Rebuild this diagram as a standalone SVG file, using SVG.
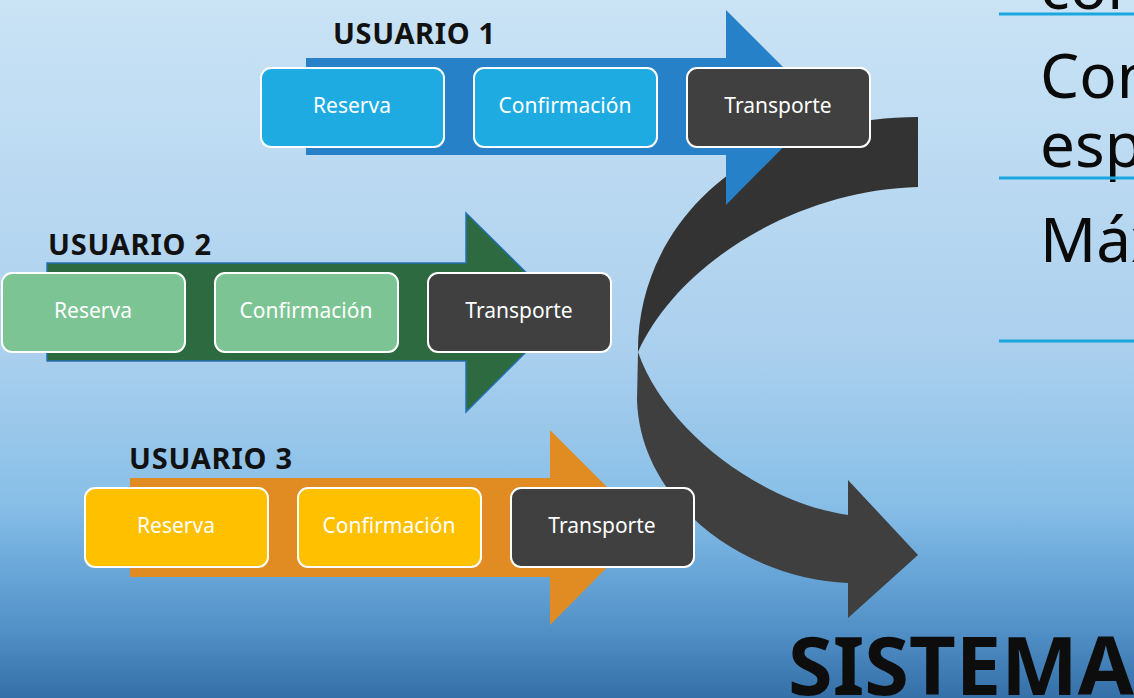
<svg xmlns="http://www.w3.org/2000/svg" width="1134" height="698" viewBox="0 0 1134 698">
  <defs>
    <linearGradient id="bg" x1="0" y1="0" x2="0" y2="1">
      <stop offset="0" stop-color="#CAE3F5"/>
      <stop offset="0.5" stop-color="#ABD0EE"/>
      <stop offset="0.72" stop-color="#88BFE7"/>
      <stop offset="0.8" stop-color="#6EABDC"/>
      <stop offset="0.9" stop-color="#5291C7"/>
      <stop offset="1" stop-color="#3570A8"/>
    </linearGradient>
    <style>
      .box { stroke: #FFFFFF; stroke-width: 2; }
      .blue { fill: #1DABE2; }
      .green { fill: #7DC494; }
      .gold { fill: #FFC000; }
      .dark { fill: #404040; }
      .btxt { font-family: "Noto Sans", "Open Sans", sans-serif; font-size: 21px; fill: #FFFFFF; text-anchor: middle; }
      .lbl { font-family: "Noto Sans", "Open Sans", sans-serif; font-size: 29px; font-weight: bold; fill: #111111; }
      .side { font-family: "Noto Sans", "Open Sans", sans-serif; font-size: 62px; fill: #0A0A0A; }
      .rule { stroke: #1BA6DF; stroke-width: 3; }
    </style>
  </defs>

  <!-- backdrop -->
  <rect x="0" y="0" width="1134" height="698" fill="url(#bg)"/>

  <!-- list on the right edge -->
  <g id="side-list">
    <text class="side" x="1040" y="9">con</text>
    <line class="rule" x1="999" y1="14" x2="1134" y2="14"/>
    <text class="side" x="1040" y="98">Con</text>
    <text class="side" x="1040" y="167">espe</text>
    <line class="rule" x1="999" y1="178" x2="1134" y2="178"/>
    <text class="side" x="1040" y="262">Máx</text>
    <line class="rule" x1="999" y1="341" x2="1134" y2="341"/>
  </g>

  <!-- curved ribbon arrow leading to the system -->
  <g id="connectors">
    <path d="M918,117 C740,118 637,230 638,352 C680,260 800,190 918,187 Z" fill="#333333"/>
    <path d="M638,352 L637,400 C640,500 740,578 848,583 L848,618 L918,555 L848,480 L848,515 C760,502 665,430 638,352 Z" fill="#3F3F3F"/>
  </g>

  <!-- user 1 -->
  <g id="usuario1">
    <polygon points="306,58 726,58 726,10 823,107 726,205 726,155 306,155" fill="#2681C8"/>
    <text class="lbl" x="333" y="44" textLength="162" lengthAdjust="spacing">USUARIO 1</text>
    <g id="u1-reserva"><rect class="box blue" x="261" y="68" width="183" height="79" rx="10"/><text class="btxt" x="352" y="113">Reserva</text></g>
    <g id="u1-confirmacion"><rect class="box blue" x="474" y="68" width="183" height="79" rx="10"/><text class="btxt" x="565" y="113">Confirmación</text></g>
    <g id="u1-transporte"><rect class="box dark" x="687" y="68" width="183" height="79" rx="10"/><text class="btxt" x="778" y="113">Transporte</text></g>
  </g>

  <!-- user 2 -->
  <g id="usuario2">
    <polygon points="47,263 466,263 466,213 566,312 466,412 466,361 47,361" fill="#2D6A3F" stroke="#2372B0" stroke-width="1.5"/>
    <text class="lbl" x="48" y="255" textLength="163" lengthAdjust="spacing">USUARIO 2</text>
    <g id="u2-reserva"><rect class="box green" x="2" y="273" width="183" height="79" rx="10"/><text class="btxt" x="93" y="318">Reserva</text></g>
    <g id="u2-confirmacion"><rect class="box green" x="215" y="273" width="183" height="79" rx="10"/><text class="btxt" x="306" y="318">Confirmación</text></g>
    <g id="u2-transporte"><rect class="box dark" x="428" y="273" width="183" height="79" rx="10"/><text class="btxt" x="519" y="318">Transporte</text></g>
  </g>

  <!-- user 3 -->
  <g id="usuario3">
    <polygon points="130,478 550,478 550,430 647,527 550,625 550,577 130,577" fill="#E08C22"/>
    <text class="lbl" x="129" y="469" textLength="163" lengthAdjust="spacing">USUARIO 3</text>
    <g id="u3-reserva"><rect class="box gold" x="85" y="488" width="183" height="79" rx="10"/><text class="btxt" x="176" y="533">Reserva</text></g>
    <g id="u3-confirmacion"><rect class="box gold" x="298" y="488" width="183" height="79" rx="10"/><text class="btxt" x="389" y="533">Confirmación</text></g>
    <g id="u3-transporte"><rect class="box dark" x="511" y="488" width="183" height="79" rx="10"/><text class="btxt" x="602" y="533">Transporte</text></g>
  </g>

  <!-- system title -->
  <g id="sistema">
    <text x="788" y="695" font-family="'Noto Sans', 'Open Sans', sans-serif" font-size="81" font-weight="bold" fill="#0D0D0D" textLength="346" lengthAdjust="spacingAndGlyphs">SISTEMA</text>
  </g>
</svg>
